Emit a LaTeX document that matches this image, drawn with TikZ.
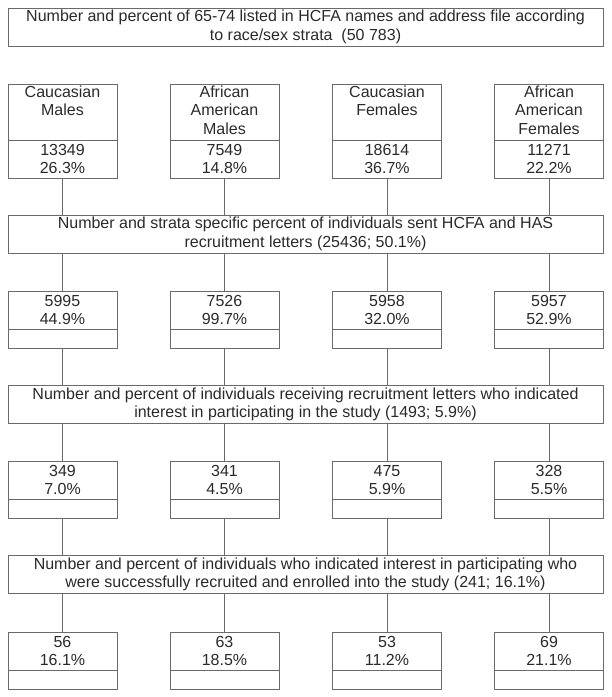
\documentclass[tikz,border=0pt]{standalone}
\usepackage{fontspec}
\setmainfont{Liberation Sans}
\usetikzlibrary{positioning}
\definecolor{flowgray}{HTML}{6A6A6A}
\definecolor{flowtext}{HTML}{2A2A2A}

\begin{document}
\begin{tikzpicture}[x=1pt,y=-1pt,font=\fontsize{16}{18.5}\selectfont,
  text=flowtext,
  frame/.style={draw=flowgray,line width=0.8pt,minimum width=595pt,
    minimum height=38pt,align=center,inner sep=0pt,outer sep=0pt},
  cell/.style={draw=flowgray,line width=0.8pt,minimum width=109pt,
    minimum height=38pt,align=center,inner sep=0pt,outer sep=0pt},
  namecell/.style={cell,minimum height=56pt},
  gapcell/.style={cell,minimum height=19pt},
  link/.style={draw=flowgray,line width=0.8pt}]
  \useasboundingbox (0,0) rectangle (612,697);

  % frames across all strata
  \node[frame] (listed) at (305.5,27)
    {Number and percent of 65-74 listed in HCFA names and address file according\\to race/sex strata\ \ (50 783)};
  \node[frame] (letters) at (305.5,234)
    {Number and strata specific percent of individuals sent HCFA and HAS\\recruitment letters (25436; 50.1\%)};
  \node[frame] (interest) at (305.5,404.5)
    {Number and percent of individuals receiving recruitment letters who indicated\\interest in participating in the study (1493; 5.9\%)};
  \node[frame] (enrolled) at (305.5,574.5)
    {Number and percent of individuals who indicated interest in participating who\\were successfully recruited and enrolled into the study (241; 16.1\%)};

  % race/sex strata
  \foreach \i/\x/\who/\n/\p in {1/62.5/{Caucasian\\Males\\\strut}/13349/26.3,
      2/224.5/{African\\American\\Males\strut}/7549/14.8,
      3/387/{Caucasian\\Females\\\strut}/18614/36.7,
      4/549/{African\\American\\Females\strut}/11271/22.2} {
    \node[namecell,anchor=north] (grp\i) at (\x,84) {\strut\who};
    \node[cell,below=0pt of grp\i] (all\i) {\n\\\p\%};
  }

  % sent letters
  \foreach \i/\x/\n/\p in {1/62.5/5995/44.9,2/224.5/7526/99.7,
      3/387/5958/32.0,4/549/5957/52.9} {
    \node[cell,anchor=north] (sent\i) at (\x,291) {\n\\\p\%};
    \node[gapcell,below=0pt of sent\i] (sentb\i) {};
  }

  % indicated interest
  \foreach \i/\x/\n/\p in {1/62.5/349/7.0,2/224.5/341/4.5,
      3/387/475/5.9,4/549/328/5.5} {
    \node[cell,anchor=north] (int\i) at (\x,461) {\n\\\p\%};
    \node[gapcell,below=0pt of int\i] (intb\i) {};
  }

  % enrolled
  \foreach \i/\x/\n/\p in {1/62.5/56/16.1,2/224.5/63/18.5,
      3/387/53/11.2,4/549/69/21.1} {
    \node[cell,anchor=north] (enr\i) at (\x,632) {\n\\\p\%};
    \node[gapcell,below=0pt of enr\i] (enrb\i) {};
  }

  \foreach \i in {1,...,4} {
    \draw[link] (all\i.south) -- (all\i.south |- letters.north);
    \draw[link] (sent\i.north |- letters.south) -- (sent\i.north);
    \draw[link] (sentb\i.south) -- (sentb\i.south |- interest.north);
    \draw[link] (int\i.north |- interest.south) -- (int\i.north);
    \draw[link] (intb\i.south) -- (intb\i.south |- enrolled.north);
    \draw[link] (enr\i.north |- enrolled.south) -- (enr\i.north);
  }
\end{tikzpicture}
\end{document}
